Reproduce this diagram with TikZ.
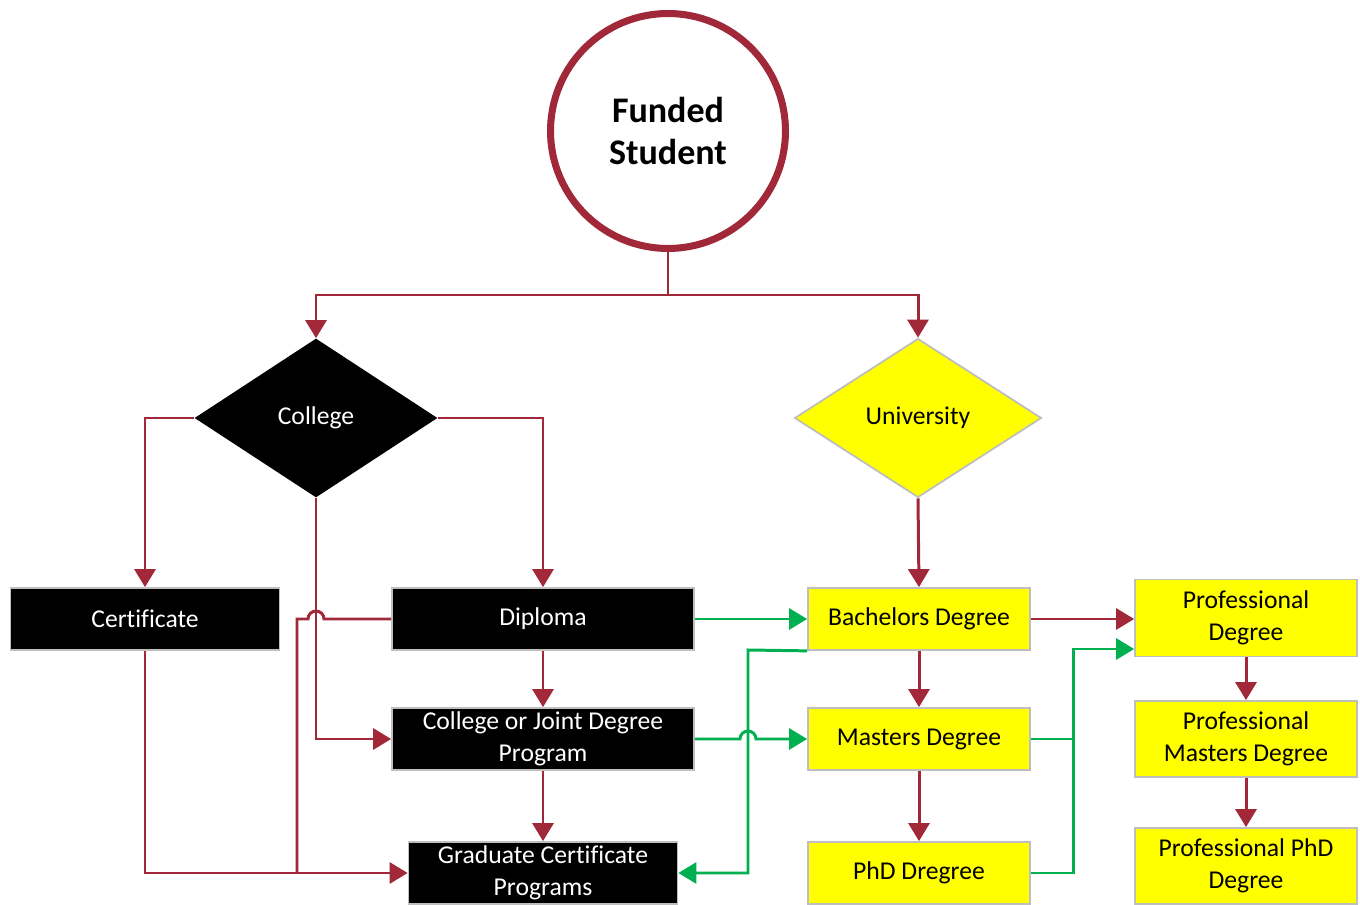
\documentclass[tikz,border=0pt]{standalone}
\usepackage{fontspec}
\setmainfont[Ligatures=NoCommon]{Carlito}
\usepackage{tikz}
\usetikzlibrary{positioning}
\usetikzlibrary{calc,shapes.geometric}
\usetikzlibrary{arrows.meta}
\definecolor{linered}{RGB}{160,40,56}
\definecolor{linegreen}{RGB}{0,176,80}
\definecolor{boxyellow}{RGB}{255,255,0}
\definecolor{boxgray}{RGB}{190,190,190}
\tikzset{>={Triangle[length=0.36cm,width=0.42cm]}}
\tikzstyle{blackbox}=[draw=boxgray,line width=1pt,fill=black,text=white,inner sep=0,
                      align=center,font=\fontsize{14.6}{18}\selectfont]
\tikzstyle{yellowbox}=[draw=boxgray,line width=1pt,fill=boxyellow,text=black,inner sep=0,
                       align=center,font=\fontsize{14.6}{18}\selectfont]
\tikzstyle{redline}=[linered,line width=1.7pt]
\tikzstyle{redarrow}=[->,linered,line width=1.7pt]
\tikzstyle{greenline}=[linegreen,line width=1.7pt]
\tikzstyle{greenarrow}=[->,linegreen,line width=1.7pt]

\begin{document}
\begin{tikzpicture}[x=0.02cm,y=-0.02cm]

\useasboundingbox (0,0) rectangle (1360,905);

% Start
\node[circle,draw=linered,line width=4pt,minimum size=4.7cm,align=center,
      font=\fontsize{20.5}{24}\selectfont\bfseries] (student) at (668,131) {Funded\\Student};

% Decisions
\node[diamond,fill=black,text=white,inner sep=0,minimum width=4.86cm,minimum height=3.18cm,
      font=\fontsize{14.6}{18}\selectfont] (college) at (316,418) {College};
\node[diamond,draw=boxgray,line width=1pt,fill=boxyellow,inner sep=0,minimum width=4.94cm,
      minimum height=3.18cm,font=\fontsize{14.6}{18}\selectfont] (uni) at (918,418) {University};

% College programs
\node[blackbox,minimum width=5.38cm,minimum height=1.24cm] (cert) at (145,619) {Certificate};
\node[blackbox,minimum width=6.04cm,minimum height=1.24cm] (dipl) at (543,619) {Diploma};
\node[blackbox,minimum width=6.04cm,minimum height=1.24cm] (joint) at (543,739) {College or Joint Degree\\Program};
\node[blackbox,minimum width=5.38cm,minimum height=1.24cm] (grad) at (543,873) {Graduate Certificate\\Programs};

% University programs
\node[yellowbox,minimum width=4.44cm,minimum height=1.24cm] (bach) at (919,619) {Bachelors Degree};
\node[yellowbox,minimum width=4.44cm,minimum height=1.24cm] (masters) at (919,739) {Masters Degree};
\node[yellowbox,minimum width=4.44cm,minimum height=1.24cm] (phd) at (919,873) {PhD Dregree};

% Professional programs
\node[yellowbox,minimum width=4.44cm,minimum height=1.54cm] (prof) at (1246,618) {Professional\\Degree};
\node[yellowbox,minimum width=4.44cm,minimum height=1.52cm] (profm) at (1246,739) {Professional\\Masters Degree};
\node[yellowbox,minimum width=4.44cm,minimum height=1.52cm] (profp) at (1246,866) {Professional PhD\\Degree};

% Helper points
\coordinate (split) at (668,295);
\coordinate (merge) at (297,873);
\coordinate (hopL) at (316,619);
\coordinate (hopR) at (748,739);
\coordinate (gvert) at (748,650);
\coordinate (gjoin) at (1073,649);

% Split from the student
\draw[redline] (student.south) -- (split);
\draw[redarrow] (split) -| (college.north);
\draw[redarrow] (split) -| (uni.north);

% College branches
\draw[redarrow] (college.west) -| (cert.north);
\draw[redarrow] (college.east) -| (dipl.north);
\draw[redarrow] (college.south) |- (joint.west);
\draw[redarrow] (cert.south) |- (grad.west);
\draw[redline] (dipl.west) -- ($(hopL)+(8,0)$) arc[start angle=0,end angle=-180,radius=8]
      -- (merge |- dipl.west) -- (merge);
\draw[redarrow] (dipl.south) -- (joint.north);
\draw[redarrow] (joint.south) -- (grad.north);

% University branches
\draw[redarrow] (uni.south) -- (bach.north);
\draw[redarrow] (bach.south) -- (masters.north);
\draw[redarrow] (masters.south) -- (phd.north);
\draw[redarrow] (bach.east) -- (bach.east -| prof.west);
\draw[redarrow] (prof.south) -- (profm.north);
\draw[redarrow] (profm.south) -- (profp.north);

% Transfers
\draw[greenarrow] (dipl.east) -- (dipl.east -| bach.west);
\draw[greenarrow] (joint.east) -- ($(hopR)+(-8,0)$) arc[start angle=180,end angle=360,radius=8]
      -- (masters.west);
\draw[greenarrow] (bach.south west) -- (gvert) |- (grad.east);
\draw[greenline] (masters.east) -- (masters.east -| gjoin);
\draw[greenarrow] (phd.east) -| (gjoin) -- (gjoin -| prof.west);

\end{tikzpicture}
\end{document}
